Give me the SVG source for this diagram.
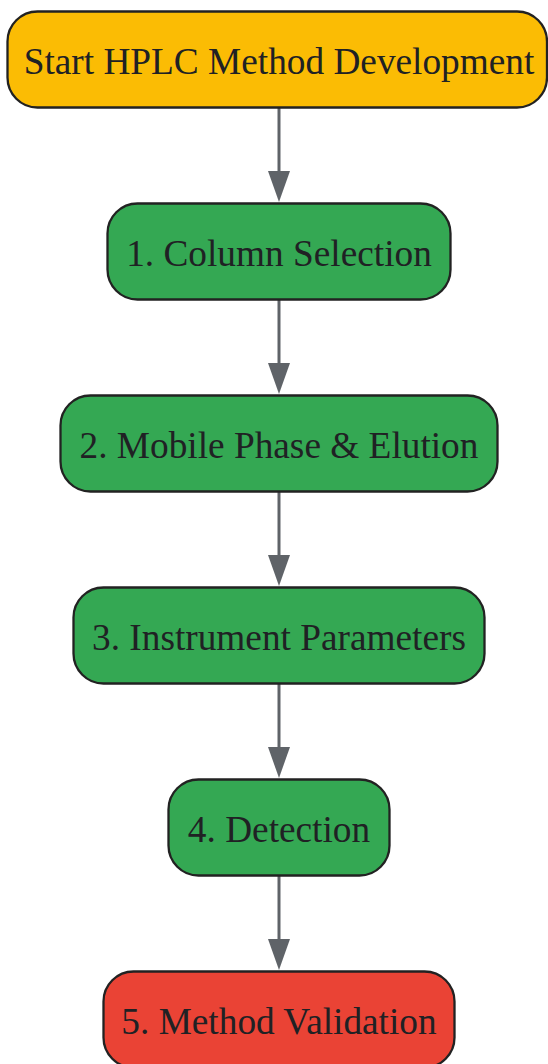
<svg xmlns="http://www.w3.org/2000/svg" width="548" height="1064" viewBox="0 0 548 1064">
<defs>
<style>
.node rect{stroke:#222222;stroke-width:2.3}
.node text{font-family:"Liberation Serif","Times New Roman",serif;font-size:37.3px;fill:#202124;text-anchor:middle}
.start rect{fill:#FBBC04}
.step rect{fill:#34A853}
.end rect{fill:#EA4335}
.edge line{stroke:#5f6368;stroke-width:3}
.edge polygon{fill:#5f6368}
</style>
</defs>
<rect width="548" height="1064" fill="#ffffff"/>
<g id="connectors">
<g class="edge"><line x1="279" y1="108" x2="279" y2="173"/><polygon points="268,171 290,171 279,202"/></g>
<g class="edge"><line x1="279" y1="300" x2="279" y2="365"/><polygon points="268,363 290,363 279,394"/></g>
<g class="edge"><line x1="279" y1="492" x2="279" y2="557"/><polygon points="268,555 290,555 279,586"/></g>
<g class="edge"><line x1="279" y1="684" x2="279" y2="749"/><polygon points="268,747 290,747 279,778"/></g>
<g class="edge"><line x1="279" y1="876" x2="279" y2="941"/><polygon points="268,939 290,939 279,970"/></g>
</g>
<g id="start" class="node start"><rect x="7.5" y="11.5" width="539.5" height="96" rx="30" ry="30"/><text x="279" y="73.5">Start HPLC Method Development</text></g>
<g id="step1" class="node step"><rect x="107.5" y="203.5" width="343" height="96" rx="30" ry="30"/><text x="279" y="265.5">1. Column Selection</text></g>
<g id="step2" class="node step"><rect x="60.5" y="395.5" width="437" height="96" rx="30" ry="30"/><text x="279" y="457.5">2. Mobile Phase &amp; Elution</text></g>
<g id="step3" class="node step"><rect x="73.5" y="587.5" width="411" height="96" rx="30" ry="30"/><text x="279" y="649.5">3. Instrument Parameters</text></g>
<g id="step4" class="node step"><rect x="168.5" y="779.5" width="221" height="96" rx="30" ry="30"/><text x="279" y="841.5">4. Detection</text></g>
<g id="step5" class="node end"><rect x="103.5" y="971.5" width="351" height="96" rx="30" ry="30"/><text x="279" y="1033.5">5. Method Validation</text></g>
</svg>
